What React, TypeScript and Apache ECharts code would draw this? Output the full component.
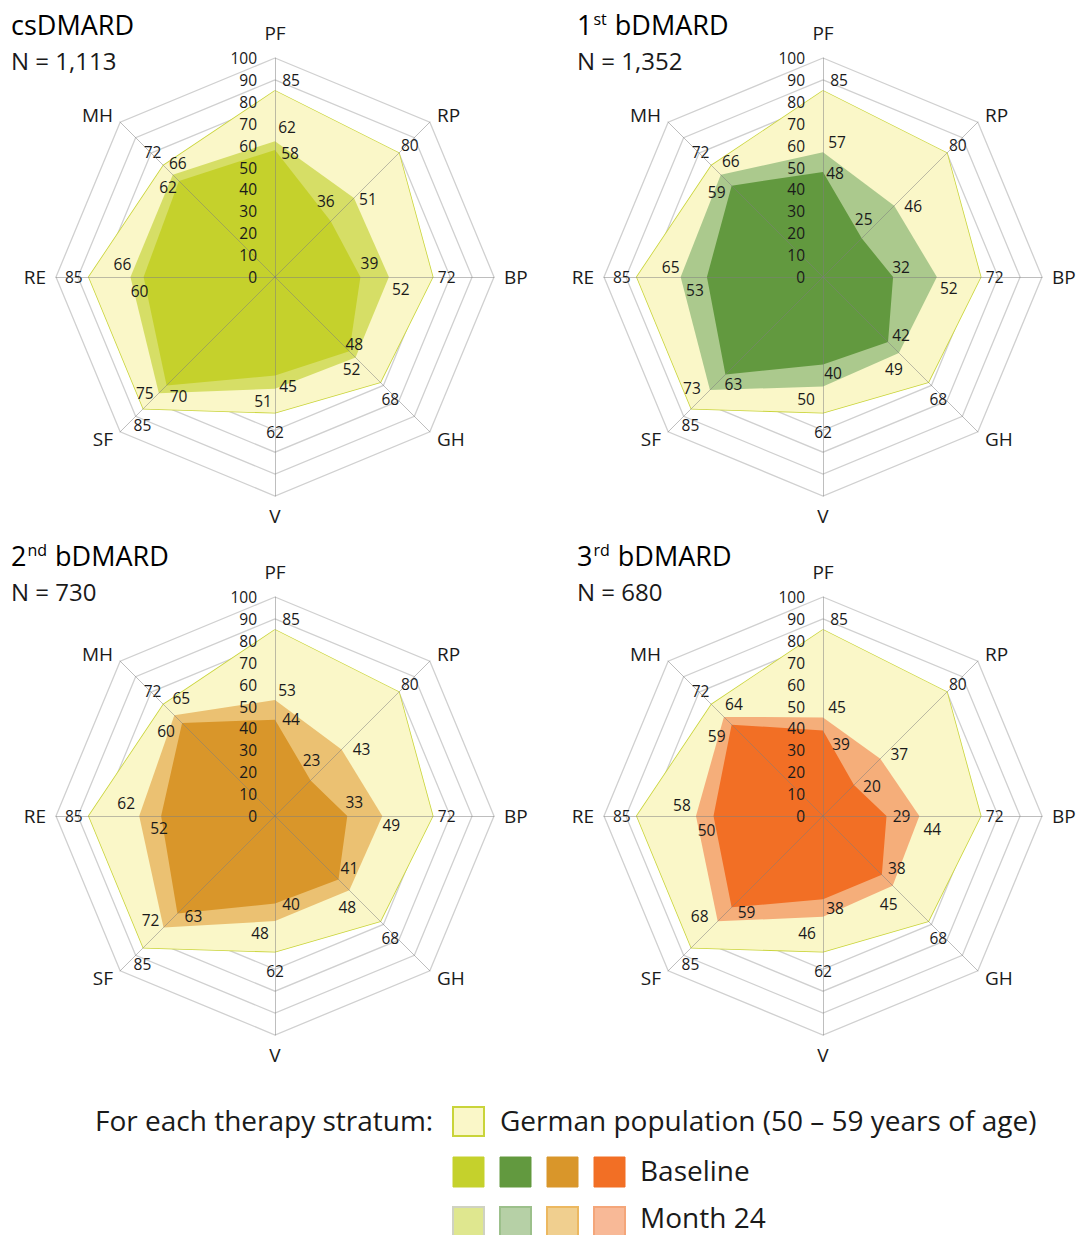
import React, { useEffect, useRef } from 'react';
import * as echarts from 'echarts';

// ---------- data ----------
const dimensions = ['PF', 'RP', 'BP', 'GH', 'V', 'SF', 'RE', 'MH'];
const strataTitles = ['csDMARD', '1st bDMARD', '2nd bDMARD', '3rd bDMARD'];
const sampleSizes = ['N = 1,113', 'N = 1,352', 'N = 730', 'N = 680'];

const germanPopulation = [85, 80, 72, 68, 62, 85, 85, 72];

const csdmardMonth24 = [62, 51, 52, 52, 51, 75, 66, 66];
const csdmardBaseline = [58, 36, 39, 48, 45, 70, 60, 62];

const bdmard1Month24 = [57, 46, 52, 49, 50, 73, 65, 66];
const bdmard1Baseline = [48, 25, 32, 42, 40, 63, 53, 59];

const bdmard2Month24 = [53, 43, 49, 48, 48, 72, 62, 65];
const bdmard2Baseline = [44, 23, 33, 41, 40, 63, 52, 60];

const bdmard3Month24 = [45, 37, 44, 45, 46, 68, 58, 64];
const bdmard3Baseline = [39, 20, 29, 38, 38, 59, 50, 59];

const axisMin = 0;
const axisMax = 100;
const axisSplits = 10;

const month24Series = [csdmardMonth24, bdmard1Month24, bdmard2Month24, bdmard3Month24];
const baselineSeries = [csdmardBaseline, bdmard1Baseline, bdmard2Baseline, bdmard3Baseline];

// ---------- styles ----------
const FONT = '"Open Sans", Lato, "DejaVu Sans", sans-serif';
const TEXT = '#1a1a1a';
const LABEL_SIZE = 15.5;
const baselineColors = ['#c5d12c', '#62993f', '#d9962a', '#f26f25'];
const month24Colors = ['#d6de66', '#abc98d', '#ebc172', '#f5ae7a'];
const month24LegendFill = ['#dfe78f', '#b6d0a6', '#f0cf8f', '#f8b997'];
const month24LegendStroke = ['#cfd2c2', '#9cc08b', '#ecb860', '#f4a67a'];
const germanFill = '#faf7c8';
const germanStroke = '#c9d43a';

const centers: [number, number][] = [
  [275, 277],
  [823, 277],
  [275, 816],
  [823, 816],
];
const RADIUS = 219;

// label offsets (dx, dy) in px, natural dimension order
const germanOffsets = [[16, -11], [11, -8], [14, 0], [10, 17], [0, 19], [-1, 16], [-15, 0], [-11, -14]];
const month24Offsets = [
  [[12, -14], [14, 1], [12, 12], [-4, 11], [-12, 12], [-14, 0], [-8, -13], [5, -12]],
  [[14, -10], [19, 0], [12, 11], [-5, 16], [-17, 12], [-18, -2], [-10, -10], [10, -14]],
  [[12, -10], [20, 0], [9, 9], [-2, 17], [-15, 12], [-13, -7], [-13, -13], [7, -17]],
  [[14, -10], [19, -5], [13, 13], [-4, 18], [-16, 16], [-18, -5], [-14, -11], [10, -13]],
];
const baselineOffsets = [
  [[15, 3], [-5, -20], [9, -14], [5, -7], [13, 10], [12, 11], [-4, 14], [-11, 6]],
  [[12, 1], [2, -19], [8, -10], [13, -7], [10, 8], [8, 9], [-12, 13], [-15, 6]],
  [[16, -1], [1, -20], [7, -14], [11, -11], [16, 0], [16, 2], [-2, 12], [-16, 8]],
  [[18, 13], [18, 1], [15, 0], [15, -7], [12, 9], [15, 5], [-7, 14], [-15, 11]],
];

// ECharts radar runs counter-clockwise; the reference runs clockwise.
const order = [0, 7, 6, 5, 4, 3, 2, 1];

function richFor(offsets: number[][]) {
  const rich: Record<string, any> = {};
  order.forEach((k, i) => {
    const [dx, dy] = offsets[k];
    rich['d' + i] = {
      fontSize: LABEL_SIZE,
      fontFamily: FONT,
      color: TEXT,
      padding: [Math.max(0, 2 * dy), Math.max(0, -2 * dx), Math.max(0, -2 * dy), Math.max(0, 2 * dx)],
    };
  });
  return rich;
}

function buildOption() {
  const radars: any[] = [];
  centers.forEach((c) => {
    radars.push({
      center: c,
      radius: RADIUS,
      startAngle: 90,
      shape: 'polygon',
      splitNumber: axisSplits,
      z: 1,
      indicator: order.map((k) => ({ name: dimensions[k], min: axisMin, max: axisMax })),
      axisNameGap: 10,
      axisName: {
        color: TEXT,
        fontSize: 19,
        fontFamily: FONT,
        formatter: (name: string) => (name === 'PF' ? '{pf|PF}' : name),
        rich: { pf: { fontSize: 19, fontFamily: FONT, color: TEXT, padding: [0, 0, 6, 0] } },
      },
      splitLine: { lineStyle: { color: '#d0d0d0', width: 1.3 } },
      splitArea: { show: false },
      axisLine: { show: false },
      axisTick: { show: false },
      axisLabel: { show: false },
    });
  });
  centers.forEach((c) => {
    radars.push({
      center: c,
      radius: RADIUS,
      startAngle: 90,
      shape: 'polygon',
      splitNumber: axisSplits,
      z: 10,
      indicator: order.map(() => ({ name: '', min: axisMin, max: axisMax })),
      axisName: { show: false },
      splitLine: { show: false },
      splitArea: { show: false },
      axisLine: { show: true, lineStyle: { color: 'rgba(125,125,125,0.5)', width: 1 } },
      axisTick: { show: false },
      axisLabel: { show: false },
    });
  });
  centers.forEach((c) => {
    radars.push({
      center: c,
      radius: RADIUS,
      startAngle: 90,
      shape: 'polygon',
      splitNumber: axisSplits,
      z: 11,
      indicator: [{ name: '', min: axisMin, max: axisMax }],
      axisName: { show: false },
      splitLine: { show: false },
      splitArea: { show: false },
      axisLine: { show: false },
      axisTick: { show: false },
      axisLabel: { show: true, color: TEXT, fontSize: LABEL_SIZE, fontFamily: FONT, margin: 18 },
    });
  });

  const series: any[] = [];
  const fmt = (p: any) => `{d${p.dimensionIndex}|${p.value}}`;
  centers.forEach((_, i) => {
    const layers = [
      { values: germanPopulation, color: germanFill, offsets: germanOffsets, stroke: true, name: 'German population' },
      { values: month24Series[i], color: month24Colors[i], offsets: month24Offsets[i], stroke: false, name: 'Month 24' },
      { values: baselineSeries[i], color: baselineColors[i], offsets: baselineOffsets[i], stroke: false, name: 'Baseline' },
    ];
    layers.forEach((L, li) => {
      series.push({
        type: 'radar',
        name: L.name,
        radarIndex: i,
        z: 2 + li,
        silent: true,
        symbol: 'circle',
        symbolSize: 0,
        lineStyle: L.stroke ? { color: germanStroke, width: 1.6 } : { width: 0, opacity: 0 },
        areaStyle: { color: L.color, opacity: 1 },
        itemStyle: { color: L.color },
        label: {
          show: true,
          position: 'inside',
          color: TEXT,
          fontSize: LABEL_SIZE,
          fontFamily: FONT,
          formatter: fmt,
          rich: richFor(L.offsets),
        },
        data: [{ value: order.map((k) => L.values[k]), name: L.name }],
      });
    });
  });

  const graphic: any[] = [];
  const titleRich = {
    n: { fontSize: 27, fontFamily: FONT, color: TEXT },
    s: { fontSize: 16, fontFamily: FONT, color: TEXT, verticalAlign: 'top', padding: [0, 1, 11, 1] },
  };
  const titlePos: [number, number][] = [
    [11, 24],
    [577, 24],
    [11, 555],
    [577, 555],
  ];
  strataTitles.forEach((t, i) => {
    const m = t.match(/^(\d)(st|nd|rd)(.*)$/);
    const text = m ? `{n|${m[1]}}{s|${m[2]}}{n|${m[3]}}` : `{n|${t}}`;
    graphic.push({
      type: 'text',
      x: titlePos[i][0],
      y: titlePos[i][1],
      style: { text, rich: titleRich, align: 'left', verticalAlign: 'middle', textAlign: 'left', textVerticalAlign: 'middle' },
    });
    graphic.push({
      type: 'text',
      x: titlePos[i][0],
      y: titlePos[i][1] + 36,
      style: {
        text: sampleSizes[i],
        font: `24px ${FONT}`,
        fill: TEXT,
        align: 'left',
        verticalAlign: 'middle',
        textAlign: 'left',
        textVerticalAlign: 'middle',
      },
    });
  });

  // legend
  const legFont = `28px ${FONT}`;
  const legText = (text: string, x: number, y: number) => ({
    type: 'text',
    x,
    y,
    style: { text, font: legFont, fill: TEXT, align: 'left', verticalAlign: 'middle', textAlign: 'left', textVerticalAlign: 'middle' },
  });
  graphic.push(legText('For each therapy stratum:', 95, 1120));
  graphic.push({
    type: 'rect',
    shape: { x: 453, y: 1107, width: 31, height: 29 },
    style: { fill: germanFill, stroke: germanStroke, lineWidth: 2 },
  });
  graphic.push(legText('German population (50 \u2013 59 years of age)', 500, 1120));
  const sqX = [453, 500, 547, 594];
  sqX.forEach((x, i) => {
    graphic.push({
      type: 'rect',
      shape: { x, y: 1157, width: 31, height: 30 },
      style: { fill: baselineColors[i], stroke: baselineColors[i], lineWidth: 1 },
    });
    graphic.push({
      type: 'rect',
      shape: { x, y: 1207, width: 31, height: 30 },
      style: { fill: month24LegendFill[i], stroke: month24LegendStroke[i], lineWidth: 2 },
    });
  });
  graphic.push(legText('Baseline', 640, 1170));
  graphic.push(legText('Month 24', 640, 1217));

  return {
    animation: false,
    backgroundColor: '#ffffff',
    radar: radars,
    series,
    graphic,
  };
}

export default function App() {
  const ref = useRef<HTMLDivElement>(null);
  useEffect(() => {
    if (!ref.current) return;
    const chart = echarts.init(ref.current, undefined, { renderer: 'svg' });
    chart.setOption(buildOption() as any);
    return () => chart.dispose();
  }, []);
  return (
    <div
      ref={ref}
      style={{ position: 'absolute', left: 0, top: 0, width: 1078, height: 1235, background: '#fff' }}
    />
  );
}
